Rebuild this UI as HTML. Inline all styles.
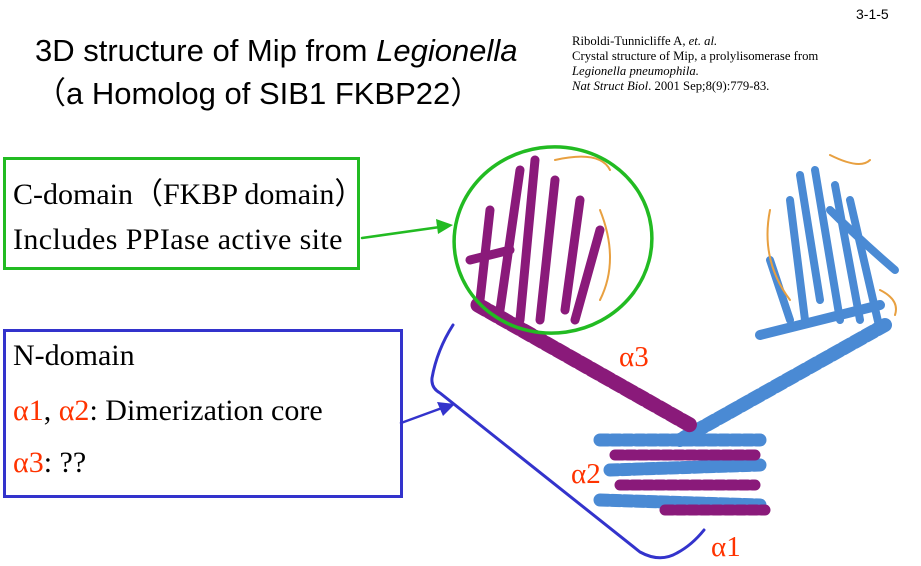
<!DOCTYPE html>
<html><head><meta charset="utf-8"><style>
body{margin:0;width:921px;height:566px;background:#fff;overflow:hidden;position:relative;font-family:"Liberation Sans",sans-serif}
.t{position:absolute;white-space:nowrap}
.s{font-family:"Liberation Serif",serif}
.r{color:#ff3300}
</style></head><body>
<div class="t" style="left:856px;top:6px;font-size:14px">3-1-5</div>
<div class="t" style="left:35px;top:33px;font-size:31px">3D structure of Mip from <i>Legionella</i></div>
<div class="t" style="left:35px;top:68px;font-size:31px">（a Homolog of SIB1 FKBP22）</div>
<div class="t s" style="left:572px;top:34px;font-size:12.7px;line-height:15px">Riboldi-Tunnicliffe A, <i>et. al.</i><br>Crystal structure of Mip, a prolylisomerase from<br><i>Legionella pneumophila.</i><br><i>Nat Struct Biol</i>. 2001 Sep;8(9):779-83.</div>

<div style="position:absolute;left:3px;top:157px;width:351px;height:107px;border:3px solid #22bb22"></div>
<div class="t s" style="left:13px;top:169px;font-size:30px">C-domain（FKBP domain）</div>
<div class="t s" style="left:13px;top:223px;font-size:30px;letter-spacing:0.4px">Includes PPIase active site</div>

<div style="position:absolute;left:3px;top:329px;width:394px;height:163px;border:3px solid #3333cc"></div>
<div class="t s" style="left:13px;top:339px;font-size:30px">N-domain</div>
<div class="t s" style="left:13px;top:394px;font-size:30px"><span class="r">α1</span>, <span class="r">α2</span>: Dimerization core</div>
<div class="t s" style="left:13px;top:446px;font-size:30px"><span class="r">α3</span>: ??</div>

<svg style="position:absolute;left:0;top:0" width="921" height="566">
<g fill="none" stroke-linecap="round">
<path d="M800,175 L820,300 M815,170 L840,320 M835,185 L860,320 M790,200 L805,320 M850,200 L880,330 M770,260 L790,320 M830,210 Q860,240 895,270" stroke="#4a8ad4" stroke-width="8"/>
<path d="M885,325 L680,440" stroke="#4a8ad4" stroke-width="14" stroke-dasharray="9 4"/>
<path d="M760,335 L880,305" stroke="#4a8ad4" stroke-width="10"/>
<path d="M520,170 L500,310 M535,160 L520,320 M555,180 L540,320 M580,200 L565,310 M490,210 L480,300 M600,230 L575,320 M470,260 L510,250" stroke="#8a1a7a" stroke-width="9"/>
<path d="M478,305 L690,425" stroke="#8a1a7a" stroke-width="15" stroke-dasharray="9 4"/>
<path d="M600,440 L760,440 M610,470 L760,465 M600,500 L760,505" stroke="#4a8ad4" stroke-width="13" stroke-dasharray="8 4"/>
<path d="M615,455 L755,455 M620,485 L755,485 M665,510 L765,510" stroke="#8a1a7a" stroke-width="11" stroke-dasharray="8 4"/>
<path d="M555,160 Q600,150 610,170 M600,210 Q620,260 600,300 M770,210 Q760,260 790,300 M830,155 Q860,170 870,160 M880,290 Q900,300 895,315" stroke="#e8a040" stroke-width="2"/>
<ellipse cx="553" cy="240" rx="99" ry="93" transform="rotate(-8 553 240)" stroke="#22bb22" stroke-width="3.5"/>
<path d="M362,238 L440,227" stroke="#22bb22" stroke-width="2.5"/>
<path d="M453,325 Q437,350 432,378 Q431,388 440,393 L640,552 Q660,563 677,553 Q692,545 704,530" stroke="#3333cc" stroke-width="3"/>
<path d="M401,423 L442,408" stroke="#3333cc" stroke-width="2.5"/>
</g>
<polygon points="453,225 436,219 438,234" fill="#22bb22"/>
<polygon points="455,404 437,402 443,416" fill="#3333cc"/>
<g font-family="Liberation Serif,serif" font-size="29" fill="#ff3300">
<text x="619" y="366">α3</text><text x="571" y="483">α2</text><text x="711" y="556">α1</text>
</g>
</svg>
</body></html>
